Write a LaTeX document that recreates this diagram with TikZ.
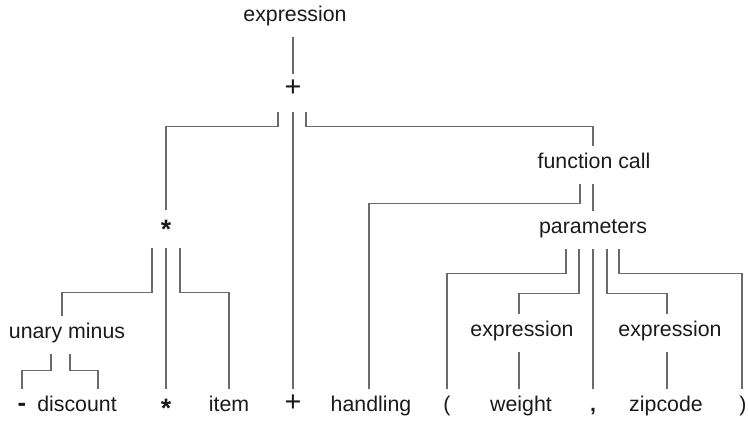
\documentclass[tikz,border=0pt]{standalone}
\usepackage{fontspec}
\setmainfont{Liberation Sans}
\usetikzlibrary{
  positioning,
  calc,
}
\definecolor{textMain}{HTML}{1A1A1A}
\definecolor{lineCol}{HTML}{6A6A6A}
\tikzset{
  word/.style={
    rectangle, inner sep=0pt, text=textMain, font=\fontsize{16}{19}\selectfont,
    text height=0.68em, text depth=0.16em, minimum height=27.75pt,
  },
  starword/.style={word, text height=1.42em, text depth=0.02em},
  edge/.style={draw=lineCol, line width=1.1pt},
}
\newcommand{\boldstar}{\scalebox{1.25}{\bfseries *}}
\newcommand{\bigplus}{\scalebox{1.35}{+}}
\newcommand{\boldminus}{\scalebox{1.2}{\bfseries -}}

\begin{document}
\begin{tikzpicture}[x=0.75pt, y=-0.75pt]
  \useasboundingbox (0,0) rectangle (748,421);

  % Upper levels
  \node[word] (expr) at (295, 18.5) {expression};
  \node[word] (plus) at (293, 93) {\bigplus};
  \node[starword] (star) at (166, 229) {\boldstar};
  \node[word] (fcall) at (594, 165) {function call};
  \node[word] (params) at (593, 230) {parameters};
  \node[word] (umin) at (67, 335) {unary minus};
  \node[word] (exprW) at (522, 333) {expression};
  \node[word] (exprZ) at (670, 333) {expression};

  % Bottom row
  \node[word] (minus) at (22, 408) {\boldminus};
  \node[word] (disc) at (77, 408) {discount};
  \node[starword] (bstar) at (166, 408) {\boldstar};
  \node[word] (item) at (229, 408) {item};
  \node[word] (bplus) at (293, 408) {\bigplus};
  \node[word] (hand) at (371, 408) {handling};
  \node[word] (lpar) at (447, 408) {(};
  \node[word] (weight) at (521, 408) {weight};
  \node[word] (comma) at (593, 408) {\bfseries ,};
  \node[word] (zip) at (666, 408) {zipcode};
  \node[word] (rpar) at (743, 408) {)};

  \draw[edge] (expr.south -| plus.north) -- (plus.north);
  \draw[edge] ($(plus.south)+(-15,0)$) -- ++(0,14.5) -| (star.north);
  \draw[edge] (plus.south) -- (bplus.north);
  \draw[edge] ($(plus.south)+(13,0)$) -- ++(0,14.5) -| (fcall.north -| params.north);

  \draw[edge] ($(star.south)+(-14,0)$) -- ++(0,44.5) -| ($(umin.north)+(-5,0)$);
  \draw[edge] (star.south) -- (bstar.north);
  \draw[edge] ($(star.south)+(14,0)$) -- ++(0,44.5) -| (item.north);

  \draw[edge] ($(umin.south)+(-16,0)$) -- ++(0,16.5) -| (minus.north);
  \draw[edge] ($(umin.south)+(3,0)$) -- ++(0,16.5) -| ($(disc.north)+(21,0)$);

  \draw[edge] ($(fcall.south)+(-14,0)$) -- ++(0,19.5) -| ($(hand.north)+(-2,0)$);
  \draw[edge] (fcall.south -| params.north) -- (params.north);

  \draw[edge] ($(params.south)+(-27,0)$) -- ++(0,24.5) -| (lpar.north);
  \draw[edge] ($(params.south)+(-14,0)$) -- ++(0,44.5) -| ($(exprW.north)+(-3,0)$);
  \draw[edge] (params.south) -- (comma.north);
  \draw[edge] ($(params.south)+(14,0)$) -- ++(0,44.5) -| ($(exprZ.north)+(-3,0)$);
  \draw[edge] ($(params.south)+(26,0)$) -- ++(0,24.5) -| ($(rpar.north)+(-1,0)$);

  \draw[edge] ($(exprW.south)+(-3,0)$) -- ($(weight.north)+(-2,0)$);
  \draw[edge] ($(exprZ.south)+(-3,0)$) -- ($(zip.north)+(1,0)$);

\end{tikzpicture}
\end{document}
